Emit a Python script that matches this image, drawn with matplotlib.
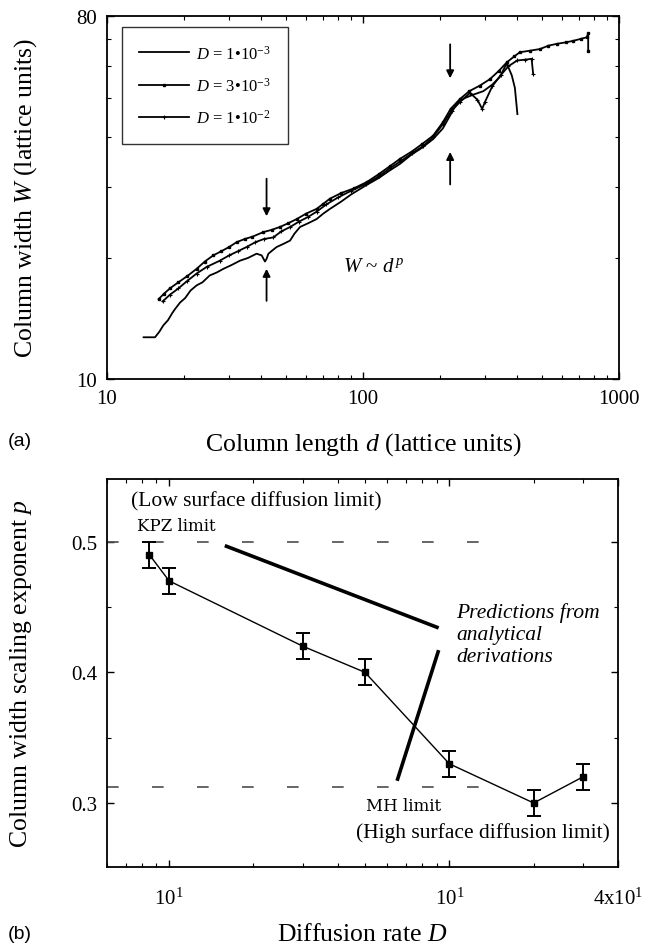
import matplotlib
matplotlib.use('Agg')
import matplotlib.pyplot as plt
from matplotlib.ticker import FixedLocator, NullFormatter, FixedFormatter, LogLocator

plt.rcParams['font.family'] = ['Liberation Serif', 'DejaVu Serif']
plt.rcParams['mathtext.fontset'] = 'custom'
plt.rcParams['mathtext.rm'] = 'Liberation Serif'
plt.rcParams['mathtext.it'] = 'Liberation Serif:italic'
plt.rcParams['mathtext.bf'] = 'Liberation Serif:bold'

# ---------------- data: panel (a) ----------------
dA = [13.9, 15.4, 16.0, 16.6, 17.3, 18.0, 18.4, 19.3, 20.2, 21.2, 22.4, 23.6, 25.2, 26.8,
      28.5, 30.6, 33.1, 35.5, 38.4, 40.2, 41.4, 42.0, 42.7, 44.3, 46.0, 49.0, 51.9, 54.0,
      56.8, 61.0, 65.9, 70.0, 74.3, 82.0, 90.0, 103.4, 115, 127, 139.5, 155, 170, 187.7,
      205, 220, 232, 250, 270, 295, 320, 343, 364, 381, 392, 401]
WA = [12.7, 12.7, 13.1, 13.6, 14.0, 14.6, 14.9, 15.5, 15.9, 16.6, 17.1, 17.4, 18.1, 18.4,
      18.8, 19.2, 19.7, 20.0, 20.5, 20.3, 19.6, 19.9, 20.5, 20.9, 21.3, 21.7, 22.1, 23.0,
      23.9, 24.4, 25.0, 25.8, 26.5, 27.6, 28.8, 30.4, 31.6, 33.0, 34.3, 36.2, 37.6, 39.5,
      42.0, 45.5, 48.5, 50.0, 51.0, 52.0, 54.0, 56.5, 61.0, 57.0, 53.0, 45.6]

dB = [15.9, 16.7, 17.6, 19.0, 20.5, 22.4, 24.1, 26.0, 28.0, 30.0, 32.1, 34.5, 37.0, 40.8,
      44.0, 47.4, 51.0, 55.1, 60.0, 65.9, 70.0, 74.3, 82.0, 92.0, 103.4, 115, 127, 139.5,
      155, 170, 187.8, 205, 220, 239, 260, 286, 313, 340, 364, 390, 410, 450, 491, 530,
      571, 620, 663, 710, 748, 758, 758]
WB = [15.8, 16.3, 16.8, 17.4, 18.0, 18.8, 19.6, 20.3, 20.8, 21.3, 21.9, 22.3, 22.6, 23.2,
      23.5, 23.9, 24.4, 25.0, 25.8, 26.5, 27.3, 28.1, 29.0, 29.8, 30.9, 32.3, 33.8, 35.3,
      36.8, 38.4, 40.3, 43.5, 47.0, 49.7, 52.0, 53.7, 55.7, 58.5, 61.3, 63.5, 65.0, 65.6,
      66.2, 67.5, 68.2, 68.8, 69.4, 70.2, 70.8, 72.5, 65.6]

dC = [16.5, 17.6, 19.0, 20.5, 22.4, 24.5, 27.6, 30.0, 32.5, 35.1, 38.0, 41.0, 44.6, 48.0,
      52.0, 56.0, 61.0, 66.0, 72.0, 80.0, 90.0, 103, 115, 128, 140, 156, 172, 188, 205,
      222, 240, 262, 280, 292, 300, 320, 345, 370, 400, 430, 455.6, 462]
WC = [15.6, 16.2, 16.8, 17.5, 18.3, 19.0, 19.7, 20.3, 20.8, 21.3, 21.9, 22.3, 22.5, 23.3,
      23.9, 24.6, 25.3, 26.1, 27.2, 28.3, 29.4, 30.6, 31.9, 33.5, 34.8, 36.5, 38.0, 40.0,
      43.0, 46.5, 49.0, 51.5, 49.5, 47.0, 49.0, 53.5, 57.0, 60.0, 62.0, 62.3, 62.6, 57.4]

legend_labels = ['$D$ = 1\u202210$^{-3}$', '$D$ = 3\u202210$^{-3}$', '$D$ = 1\u202210$^{-2}$']

# ---------------- data: panel (b) ----------------
D_rate = [0.85, 1.0, 3.0, 5.0, 10.0, 20.0, 30.0]
p_exp = [0.49, 0.47, 0.42, 0.40, 0.33, 0.30, 0.32]
p_err = [0.01, 0.01, 0.01, 0.01, 0.01, 0.01, 0.01]
kpz_limit = 0.5
mh_limit = 0.3125
limit_D = [0.6, 16.0]
pred_kpz_D = [1.58, 9.16]
pred_kpz_p = [0.497, 0.434]
pred_mh_D = [6.51, 9.16]
pred_mh_p = [0.317, 0.417]
xtick_vals = [1, 10, 40]
xtick_labels = ['10$^{1}$', '10$^{1}$', '4x10$^{1}$']

W_, H_ = 645, 945
fig = plt.figure(figsize=(6.45, 9.45), dpi=100)
LABEL_FS = 18.5

# ---------------- panel (a) ----------------
ax1 = fig.add_axes([107 / W_, 1 - 380 / H_, (619 - 107) / W_, (380 - 17) / H_])
ax1.set_xscale('log')
ax1.set_yscale('log')
ax1.plot(dA, WA, color='k', lw=1.3, label=legend_labels[0])
ax1.plot(dB, WB, color='k', lw=1.3, marker='s', ms=1.8, label=legend_labels[1])
ax1.plot(dC, WC, color='k', lw=1.3, marker='+', ms=3.0, mew=0.8, label=legend_labels[2])
ax1.set_xlim(10, 1000)
ax1.set_ylim(10, 80)
ax1.yaxis.set_major_locator(FixedLocator([10, 80]))
ax1.yaxis.set_major_formatter(FixedFormatter(['10', '80']))
ax1.yaxis.set_minor_locator(FixedLocator([20, 30, 40, 50, 60, 70]))
ax1.yaxis.set_minor_formatter(NullFormatter())
ax1.xaxis.set_major_locator(FixedLocator([10, 100, 1000]))
ax1.xaxis.set_major_formatter(FixedFormatter(['10', '100', '1000']))
ax1.xaxis.set_minor_locator(LogLocator(base=10, subs=range(2, 10)))
ax1.xaxis.set_minor_formatter(NullFormatter())
ax1.tick_params(which='both', direction='in', top=True, right=True, labelsize=15, pad=7)
ax1.tick_params(which='major', length=5, width=1)
ax1.tick_params(which='minor', length=3, width=0.8)
for s in ax1.spines.values():
    s.set_linewidth(1.3)

leg = ax1.legend(loc='upper left', bbox_to_anchor=(0.029, 0.970), borderaxespad=0,
                 fontsize=12, frameon=True, fancybox=False, edgecolor='k',
                 handlelength=3.0, labelspacing=0.85, numpoints=1, borderpad=1.05,
                 handletextpad=0.4)
leg.get_frame().set_linewidth(1.0)

# arrows
arrow_kw = dict(arrowstyle='-|>', color='k', lw=1.3, mutation_scale=11)
ax1.annotate('', xy=(42, 25.0), xytext=(42, 32.0), arrowprops=arrow_kw)
ax1.annotate('', xy=(42, 19.1), xytext=(42, 15.4), arrowprops=arrow_kw)
ax1.annotate('', xy=(219, 55.1), xytext=(219, 69.1), arrowprops=arrow_kw)
ax1.annotate('', xy=(219, 37.3), xytext=(219, 30.0), arrowprops=arrow_kw)
ax1.text(83.5, 19.0, '$W$ ~ $d^{\\,p}$', fontsize=15, ha='left', va='center')

ax1.set_xlabel('Column length $d$ (lattice units)', fontsize=LABEL_FS)
ax1.xaxis.set_label_coords(0.5, -0.140)
ax1.set_ylabel('Column width $W$ (lattice units)', fontsize=LABEL_FS)
ax1.yaxis.set_label_coords(-0.133, 0.5)

# ---------------- panel (b) ----------------
ax2 = fig.add_axes([107 / W_, 1 - 868 / H_, (618 - 107) / W_, (868 - 480) / H_])
ax2.set_xscale('log')
ax2.plot(limit_D, [kpz_limit, kpz_limit], color='0.3', lw=1.2, ls=(0, (7, 20)))
ax2.plot(limit_D, [mh_limit, mh_limit], color='0.3', lw=1.2, ls=(0, (7, 20)))
ax2.plot(pred_kpz_D, pred_kpz_p, color='k', lw=2.6, solid_capstyle='butt')
ax2.plot(pred_mh_D, pred_mh_p, color='k', lw=2.6, solid_capstyle='butt')
ax2.errorbar(D_rate, p_exp, yerr=p_err, color='k', lw=1.0, marker='s', ms=5,
             capsize=5, capthick=1.4, elinewidth=1.4)
ax2.set_xlim(0.6, 40)
ax2.set_ylim(0.251, 0.548)
ax2.xaxis.set_major_locator(FixedLocator(xtick_vals))
ax2.xaxis.set_major_formatter(FixedFormatter(xtick_labels))
ax2.xaxis.set_minor_locator(LogLocator(base=10, subs=range(2, 10)))
ax2.xaxis.set_minor_formatter(NullFormatter())
ax2.yaxis.set_major_locator(FixedLocator([0.3, 0.4, 0.5]))
ax2.yaxis.set_major_formatter(FixedFormatter(['0.3', '0.4', '0.5']))
ax2.yaxis.set_minor_locator(FixedLocator([0.35, 0.45]))
ax2.tick_params(which='both', direction='in', top=True, right=True, labelsize=15, pad=7)
ax2.tick_params(axis='x', which='major', pad=15)
ax2.tick_params(which='major', length=5, width=1)
ax2.tick_params(which='minor', length=3, width=0.8)
for s in ax2.spines.values():
    s.set_linewidth(1.3)

ax2.text(0.732, 0.5314, '(Low surface diffusion limit)', fontsize=15.5, ha='left', va='center')
ax2.text(0.769, 0.5123, 'KPZ limit', fontsize=12, family='DejaVu Serif', ha='left', va='center')
ax2.text(10.56, 0.4294, 'Predictions from\nanalytical\nderivations', fontsize=15.5,
         style='italic', ha='left', va='center', linespacing=1.2)
ax2.text(5.03, 0.2977, 'MH limit', fontsize=12, family='DejaVu Serif', ha='left', va='center')
ax2.text(4.65, 0.2778, '(High surface diffusion limit)', fontsize=15.5, ha='left', va='center')

ax2.set_xlabel('Diffusion rate $D$', fontsize=LABEL_FS)
ax2.xaxis.set_label_coords(0.5, -0.145)
ax2.set_ylabel('Column width scaling exponent $p$', fontsize=LABEL_FS)
ax2.yaxis.set_label_coords(-0.143, 0.5)

fig.text(20 / W_, 1 - 442 / H_, '(a)', fontsize=14, family='Liberation Sans', ha='center', va='center')
fig.text(20 / W_, 1 - 935 / H_, '(b)', fontsize=14, family='Liberation Sans', ha='center', va='center')

fig.savefig('out.png', dpi=100)
